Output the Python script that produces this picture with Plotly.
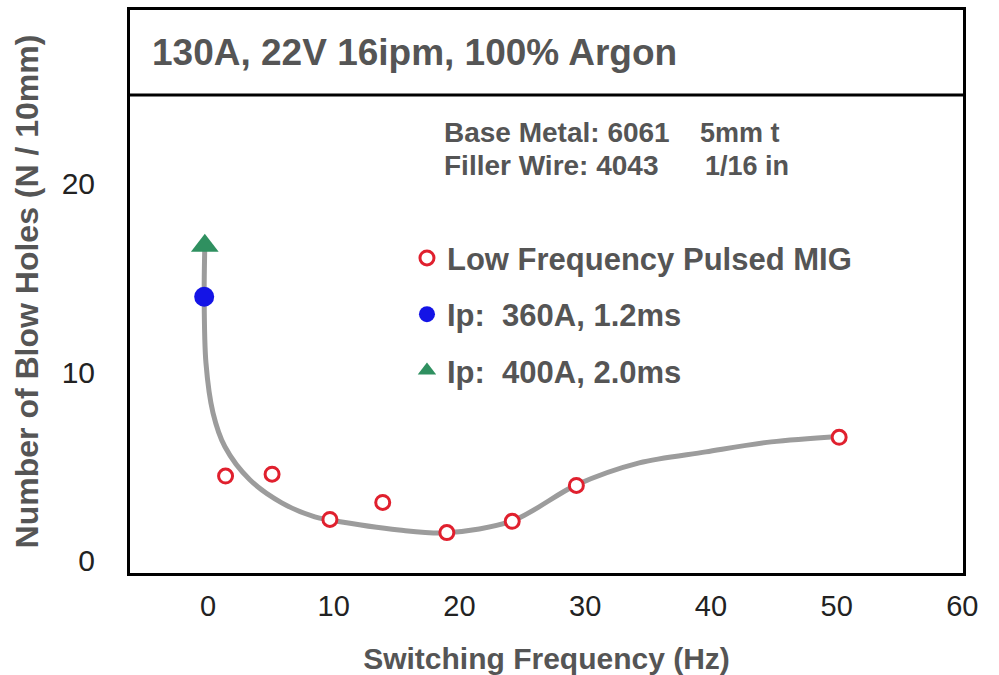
import plotly.graph_objects as go

# ---- data ----
lf_freq = [1.4, 5.1, 9.7, 13.9, 19.0, 24.2, 29.3, 50.2]
lf_holes = [4.5, 4.6, 2.2, 3.1, 1.5, 2.1, 4.0, 6.55]

ip360_freq = [-0.3]
ip360_holes = [14.0]

ip400_freq = [-0.25]
ip400_holes = [16.7]

trend_freq = [-0.25, -0.3, -0.16, 0.4, 1.35, 3.33, 5.87, 8.5, 9.7, 15.2, 19.0, 24.2, 29.3, 34.3, 39.6, 44.8, 50.2]
trend_holes = [16.7, 14.0, 10.5, 7.85, 6.05, 4.3, 3.08, 2.33, 2.17, 1.64, 1.49, 2.12, 4.03, 5.2, 5.78, 6.31, 6.6]

x_ticks = [0, 10, 20, 30, 40, 50, 60]
y_ticks = [0, 10, 20]

title_text = "130A, 22V 16ipm, 100% Argon"
info_left = ["Base Metal: 6061", "Filler Wire: 4043"]
info_right = ["5mm t", "1/16 in"]

FONT = "Liberation Sans, Arial, sans-serif"
GREY = "#555555"

fig = go.Figure()

fig.add_trace(go.Scatter(
    x=trend_freq, y=trend_holes, mode="lines",
    line=dict(color="#9c9c9c", width=5, shape="spline", smoothing=0.9),
    showlegend=False, hoverinfo="skip"))

fig.add_trace(go.Scatter(
    x=lf_freq, y=lf_holes, mode="markers", name="Low Frequency Pulsed MIG",
    legendgroup="a",
    marker=dict(symbol="circle", size=14, color="white",
                line=dict(color="#e0202e", width=3))))

fig.add_trace(go.Scatter(
    x=ip360_freq, y=ip360_holes, mode="markers", name="Ip:  360A, 1.2ms",
    legendgroup="b",
    marker=dict(symbol="circle", size=20, color="#1414e6")))

fig.add_trace(go.Scatter(
    x=ip400_freq, y=ip400_holes, mode="markers", name="Ip:  400A, 2.0ms",
    legendgroup="c",
    marker=dict(symbol="triangle-up", size=24, color="#2f9060")))

annotations = [
    dict(text=title_text, x=0.024, y=26.95, xref="paper", yref="y",
         xanchor="left", yanchor="middle", showarrow=False,
         font=dict(family=FONT, size=37, color=GREY, weight="bold")),
]
for i, (l, r) in enumerate(zip(info_left, info_right)):
    yv = 22.7 - i * 1.75
    annotations.append(dict(text=l, x=18.64, y=yv, xanchor="left", yanchor="middle",
                            showarrow=False,
                            font=dict(family=FONT, size=28, color=GREY, weight="bold")))
    annotations.append(dict(text=r, x=39.0 + i * 0.4, y=yv, xanchor="left", yanchor="middle",
                            showarrow=False,
                            font=dict(family=FONT, size=27, color=GREY, weight="bold")))

fig.update_layout(
    width=999, height=675,
    margin=dict(l=130, r=36, t=10, b=102, autoexpand=False),
    paper_bgcolor="white", plot_bgcolor="white",
    font=dict(family=FONT),
    annotations=annotations,
    shapes=[dict(type="line", xref="paper", x0=0, x1=1, yref="y", y0=24.7, y1=24.7,
                 line=dict(color="black", width=3))],
    legend=dict(x=0.3325, y=0.607, xanchor="left", yanchor="top",
                bgcolor="rgba(0,0,0,0)", tracegroupgap=13,
                font=dict(family=FONT, size=31, color=GREY, weight="bold")),
    xaxis=dict(range=[-6.2, 60.05], tickvals=x_ticks, showgrid=False, zeroline=False,
               showline=True, linecolor="black", linewidth=3, mirror=True,
               ticks="", ticklabelstandoff=5, automargin=False,
               tickfont=dict(family=FONT, size=29, color="#222222"),
               title=dict(text="Switching Frequency (Hz)", standoff=28,
                          font=dict(family=FONT, size=30, color=GREY, weight="bold"))),
    yaxis=dict(range=[-0.64, 29.2], tickvals=y_ticks, showgrid=False, zeroline=False,
               showline=True, linecolor="black", linewidth=3, mirror=True,
               ticks="", ticklabelstandoff=26, automargin=False,
               tickfont=dict(family=FONT, size=30, color="#222222"),
               title=dict(text="Number of Blow Holes (N / 10mm)", standoff=14,
                          font=dict(family=FONT, size=32, color=GREY, weight="bold"))),
)

fig.write_html("out.html", config={"displayModeBar": False},
               post_script="document.body.style.margin='0';document.body.style.overflow='hidden';")
